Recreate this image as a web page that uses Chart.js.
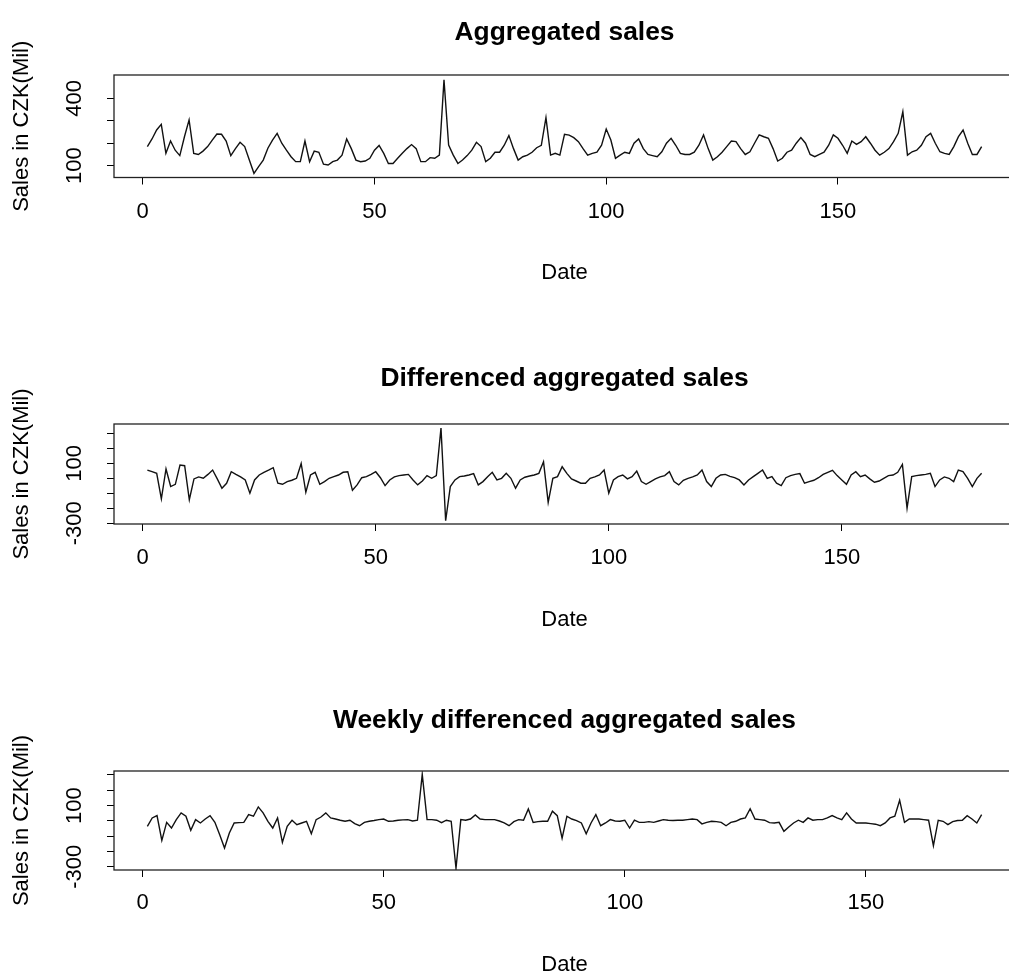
<!DOCTYPE html>
<html><head><meta charset="utf-8">
<script src="https://cdn.jsdelivr.net/npm/chart.js@4.4.1/dist/chart.umd.min.js"></script>
<style>
html,body{margin:0;padding:0;background:#fff;overflow:hidden;width:1009px;height:980px;position:relative;}
canvas{position:absolute;left:0;}
</style></head><body>
<canvas id="c1" width="1040" height="300" style="top:0px"></canvas>
<canvas id="c2" width="1040" height="350" style="top:300px"></canvas>
<canvas id="c3" width="1040" height="330" style="top:650px"></canvas>
<script>
const panelTitles = ["Aggregated sales", "Differenced aggregated sales", "Weekly differenced aggregated sales"];
const xTitle = "Date";
const yTitle = "Sales in CZK(Mil)";
const xTicks = [0, 50, 100, 150];
const yTicks1 = [100, 200, 300, 400];
const yLabels1 = [100, 400];
const yTicks23 = [-300, -200, -100, 0, 100, 200, 300];
const yLabels23 = [-300, 100];

const aggSales = [185,219,259,284,155,210,169,145,229,304,155,150,165,185,214,241,240,210,145,176,
204,185,125,66,96,125,178,214,244,200,169,140,118,118,210,118,165,160,107,103,
118,125,147,219,176,125,118,121,133,169,190,155,110,110,133,155,176,194,176,118,
118,136,133,147,482,192,147,110,125,145,169,204,185,118,133,160,160,191,234,176,
125,140,147,160,180,191,314,147,155,147,240,236,225,207,176,147,155,160,191,263,
214,133,147,160,155,200,219,176,150,145,140,162,200,222,191,155,150,150,160,191,
237,176,125,140,160,185,210,207,176,150,162,200,237,229,222,176,121,133,160,169,
200,225,200,150,140,150,160,191,237,222,191,155,210,195,207,229,200,169,147,160,
176,207,244,340,147,162,169,191,229,244,200,162,155,150,185,229,259,200,150,150,185];

const diffSales = [55,44,33,-137,62,-55,-40,88,84,-143,-4,9,0,26,55,-4,-66,-33,44,26,
9,-11,-99,-11,22,40,55,71,-33,-40,-22,-13,0,99,-93,22,40,-40,-22,0,
11,22,40,44,-80,-44,4,11,26,44,4,-49,-11,9,18,22,26,-11,-44,-18,
18,0,18,335,-283,-55,-11,11,15,22,31,-44,-22,11,40,-11,0,33,0,-66,
-11,7,15,22,33,110,-161,0,11,77,33,-4,-18,-33,-33,0,9,22,55,-99,
-11,11,22,-4,11,48,-22,-40,-22,-4,9,18,44,-22,-44,-13,0,9,22,55,
-22,-55,0,22,26,13,4,-11,-44,-11,11,33,55,0,11,-33,-49,4,18,26,
31,-33,-22,-13,4,26,40,53,18,-11,-40,22,44,11,22,-4,-26,-18,0,18,
22,40,92,-199,11,18,22,26,33,-55,-11,9,0,-22,55,44,0,-55,0,33];

const weeklyDiffSales = [-36,19,34,-128,-10,-47,8,52,30,-62,8,-14,12,34,-10,-91,-178,-80,-14,-12,
-10,41,30,91,52,-3,-47,19,-141,-36,4,-25,-14,-3,-84,8,25,52,19,12,
4,-3,4,-18,-32,-10,-3,2,8,12,-3,-1,4,6,8,-1,4,304,8,8,
4,-12,4,-3,-310,8,4,12,39,12,8,8,8,-1,-14,-32,-5,8,4,78,
-10,-5,-3,-3,63,34,-113,30,12,2,-14,-84,-14,41,-32,-14,8,-1,-3,4,
-47,4,-10,-10,-5,-10,-1,8,4,2,4,4,8,12,8,-20,-10,-3,-5,-10,
-32,-10,-3,12,19,79,12,8,4,-12,-14,-10,-69,-40,-14,4,-10,19,4,8,
8,19,34,19,8,52,12,-14,-14,-14,-18,-22,-32,-14,19,30,135,-10,12,12,
12,8,4,-163,4,-3,-25,-5,2,4,34,12,-14,41];

const FONT = 'Liberation Sans, Arial, Helvetica, sans-serif';
const boxPlugin = {
  id: 'plotBox',
  afterDatasetsDraw(chart) {
    const {ctx, chartArea: a} = chart;
    ctx.save();
    ctx.strokeStyle = '#222';
    ctx.lineWidth = 1.3;
    ctx.strokeRect(a.left, a.top, a.right - a.left, a.bottom - a.top);
    ctx.restore();
  }
};

function makePanel(p) {
  const H = p.height;
  const cTop = p.chartTop - p.top, cBot = p.chartBottom - p.top;
  const titleC = p.titleY - p.top, tickC = p.tickY - p.top, dateC = p.dateY - p.top;
  const tLH = 26.4 * 1.2;
  const tPadTop = titleC - tLH / 2;
  const tPadBot = cTop - tPadTop - tLH;
  const axH = H - cBot;
  const tickPad = tickC - cBot - 7 - 26.4 / 2;
  const datePad = H - 26.4 / 2 - dateC;
  const widest = p.yLabels.reduce((m, v) => Math.max(m, String(v).length), 0) === 4 ? 44.0 : 36.7;
  const yTickPad = 114 - 7 - widest / 2 - 75;
  const grid = {display: true, drawOnChartArea: false, drawTicks: true, tickLength: 7, color: '#000', lineWidth: 1};
  new Chart(document.getElementById(p.id), {
    type: 'line',
    data: {datasets: [{
      data: p.values.map((v, i) => ({x: i + 1, y: v})),
      borderColor: '#111', borderWidth: 1.4, pointRadius: 0, tension: 0, fill: false
    }]},
    options: {
      responsive: false, animation: false, events: [],
      layout: {padding: {left: 0, right: 25, top: 0, bottom: 0}},
      plugins: {
        legend: {display: false}, tooltip: {enabled: false},
        title: {display: true, text: p.title, fullSize: false, color: '#000',
          font: {family: FONT, size: 26.4, weight: 'bold', lineHeight: 1.2},
          padding: {top: tPadTop, bottom: tPadBot}}
      },
      scales: {
        x: {type: 'linear', min: p.xmin, max: p.xmax,
          afterBuildTicks: s => { s.ticks = xTicks.map(v => ({value: v})); },
          afterFit: s => { s.height = axH; },
          grid: grid, border: {display: false},
          ticks: {autoSkip: false, maxRotation: 0, color: '#000', padding: tickPad,
            font: {family: FONT, size: 22, lineHeight: 1.2}, callback: v => String(v)},
          title: {display: true, text: xTitle, color: '#000',
            font: {family: FONT, size: 22, lineHeight: 1.2}, padding: {top: 0, bottom: datePad}}
        },
        y: {type: 'linear', min: p.ymin, max: p.ymax,
          afterBuildTicks: s => { s.ticks = p.yTicks.map(v => ({value: v})); },
          afterFit: s => { s.width = 114; },
          grid: grid, border: {display: false},
          ticks: {autoSkip: false, minRotation: 90, maxRotation: 90, crossAlign: 'center',
            color: '#000', padding: yTickPad,
            font: {family: FONT, size: 22, lineHeight: 1.2},
            callback: v => p.yLabels.includes(v) ? String(v) : ''},
          title: {display: true, text: yTitle, color: '#000',
            font: {family: FONT, size: 22, lineHeight: 1.2}, padding: {top: 8.8, bottom: 0}}
        }
      }
    },
    plugins: [boxPlugin]
  });
}

makePanel({id: 'c1', top: 0, height: 300, chartTop: 75, chartBottom: 177.5, titleY: 33, tickY: 212, dateY: 273,
  title: panelTitles[0], values: aggSales, xmin: -6.2, xmax: 188.2, ymin: 47.5, ymax: 503.7,
  yTicks: yTicks1, yLabels: yLabels1});
makePanel({id: 'c2', top: 300, height: 350, chartTop: 424, chartBottom: 524, titleY: 379, tickY: 558, dateY: 620,
  title: panelTitles[1], values: diffSales, xmin: -6.16, xmax: 187.16, ymin: -304.7, ymax: 362,
  yTicks: yTicks23, yLabels: yLabels23});
makePanel({id: 'c3', top: 650, height: 330, chartTop: 771, chartBottom: 870, titleY: 721, tickY: 903, dateY: 965,
  title: panelTitles[2], values: weeklyDiffSales, xmin: -5.92, xmax: 180.92, ymin: -321.6, ymax: 326,
  yTicks: yTicks23, yLabels: yLabels23});
</script>
</body></html>
